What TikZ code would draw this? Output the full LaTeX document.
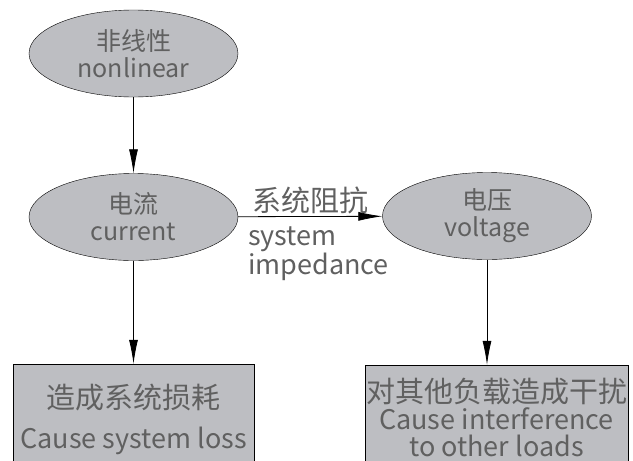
\documentclass[tikz,border=0pt]{standalone}
\usepackage{fontspec}
\setmainfont{Noto Sans CJK SC}
\usepackage{tikz}
\usetikzlibrary{arrows.meta}
\usetikzlibrary{shapes.geometric}
\definecolor{nodegray}{HTML}{BDBEC2}
\definecolor{textgray}{HTML}{606060}
\newcommand{\latin}[1]{{\fontsize{27}{29}\selectfont #1}}

\begin{document}
\begin{tikzpicture}[x=1pt,y=-1pt]
\tikzstyle{arrow}=[-{Latex[length=24pt,width=9pt]},line width=0.8pt];
\tikzstyle{oval}=[ellipse,draw,fill=nodegray,text=textgray,minimum width=209pt,minimum height=87pt,inner sep=0pt,align=center,font=\fontsize{25}{27}\selectfont];
\tikzstyle{box}=[rectangle,draw,fill=nodegray,text=textgray,inner sep=0pt,align=center,font=\fontsize{29}{29}\selectfont];
\useasboundingbox (0,0) rectangle (633,461);
\clip (0,0) rectangle (633,461);
\node (1) [oval] at (133.5,53.5) {非线性\\nonlinear};
\node (2) [oval] at (133.5,217) {电流\\current};
\node (3) [oval] at (487,216) {电压\\voltage};
\node (4) [box,minimum width=241pt,minimum height=110pt] at (133.5,419) {造成系统损耗\\[11pt]\latin{Cause system loss}};
\node (5) [box,minimum width=263pt,minimum height=104pt,font=\fontsize{29}{27}\selectfont] at (496.5,417) {对其他负载造成干扰\\\latin{Cause interference}\\\latin{to other loads}};
\draw [arrow] (1) -- (2);
\draw [arrow] (2) -- node (6) [above,inner sep=2pt,text=textgray,font=\fontsize{29}{29}\selectfont] {系统阻抗}
  node (7) [below right,inner sep=0pt,xshift=-62.5pt,yshift=-10pt,align=left,text=textgray,font=\fontsize{27}{23}\selectfont] {system\\impedance} (3);
\draw [arrow] (2) -- (4);
\draw [arrow] (3) -- (3 |- 5.north);
\end{tikzpicture}
\end{document}
